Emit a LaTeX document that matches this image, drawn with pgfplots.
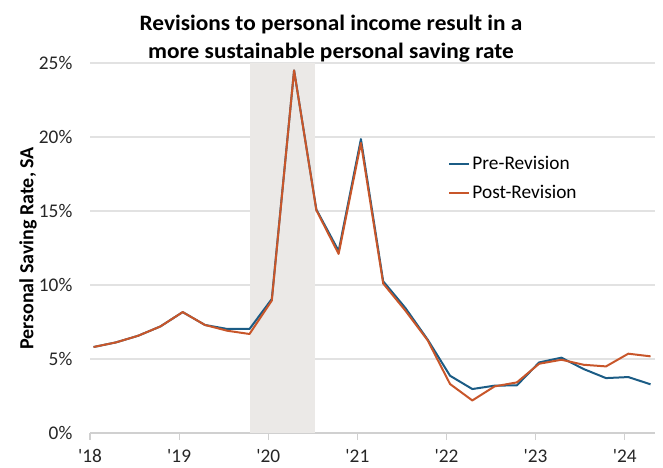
\documentclass[border=0pt]{standalone}
\usepackage{pgfplots}
\pgfplotsset{compat=1.18}
\usepackage{fontspec}
\setmainfont{Carlito}
\newfontfamily\titlefont[FakeStretch=1.06]{Carlito}
\definecolor{preblue}{HTML}{1B5C85}
\definecolor{postorange}{HTML}{C8562A}
\definecolor{shade}{HTML}{EBE9E7}
\definecolor{gridc}{HTML}{E2E2E2}
\definecolor{axc}{HTML}{D0D0D0}
\begin{document}
\begin{tikzpicture}
\begin{axis}[
  name=ax,
  scale only axis,
  width=423.75pt, height=277.5pt,
  xmin=2018, xmax=2024.34,
  ymin=0, ymax=25,
  axis x line*=bottom,
  axis y line*=left,
  y axis line style={draw=none},
  x axis line style={color=axc, line width=0.8pt, -},
  ymajorgrids,
  grid style={color=gridc, line width=0.8pt},
  ytick={0,5,10,15,20,25},
  yticklabels={0\%,5\%,10\%,15\%,20\%,25\%},
  ytick style={draw=none},
  yticklabel style={xshift=-4.75pt},
  xtick={2018,2019,2020,2021,2022,2023,2024},
  xticklabels={\textquotesingle18,\textquotesingle19,\textquotesingle20,\textquotesingle21,\textquotesingle22,\textquotesingle23,\textquotesingle24},
  xticklabel style={yshift=-4pt},
  tick align=outside,
  xtick pos=lower,
  major tick length=5pt,
  xtick style={color=axc, line width=0.8pt},
  tick label style={font=\fontsize{14.5}{16}\selectfont, text=black!85},
  clip=false,
  legend style={draw=none, fill=none, at={(0.634,0.754)}, anchor=north west,
    font=\fontsize{14.5}{16}\selectfont, row sep=7.5pt, inner sep=0pt,
    nodes={inner sep=1.5pt}},
  legend cell align=left,
  legend image code/.code={\draw[#1] (0pt,0pt) -- (15pt,0pt);},
]
\addplot[fill=shade, draw=none, forget plot] coordinates {(2019.79,0) (2019.79,25) (2020.53,25) (2020.53,0)} -- cycle;
\addplot[color=preblue, line width=1.5pt, line join=round] coordinates {
(2018.04,5.81) (2018.29,6.12) (2018.54,6.57) (2018.79,7.2)
(2019.04,8.17) (2019.29,7.3) (2019.54,7.03) (2019.79,7.03)
(2020.04,9.05) (2020.29,24.5) (2020.54,15.1) (2020.79,12.3)
(2021.04,19.86) (2021.29,10.25) (2021.54,8.44) (2021.79,6.3)
(2022.04,3.87) (2022.29,2.97) (2022.54,3.2) (2022.79,3.22)
(2023.04,4.77) (2023.29,5.09) (2023.54,4.32) (2023.79,3.71)
(2024.04,3.78) (2024.29,3.29)};
\addlegendentry{Pre-Revision}
\addplot[color=postorange, line width=1.5pt, line join=round] coordinates {
(2018.04,5.81) (2018.29,6.12) (2018.54,6.57) (2018.79,7.2)
(2019.04,8.17) (2019.29,7.3) (2019.54,6.91) (2019.79,6.69)
(2020.04,8.95) (2020.29,24.5) (2020.54,15.05) (2020.79,12.1)
(2021.04,19.6) (2021.29,10.1) (2021.54,8.26) (2021.79,6.25)
(2022.04,3.31) (2022.29,2.2) (2022.54,3.15) (2022.79,3.42)
(2023.04,4.68) (2023.29,4.95) (2023.54,4.61) (2023.79,4.5)
(2024.04,5.36) (2024.29,5.18)};
\addlegendentry{Post-Revision}
\end{axis}
\path[use as bounding box] ([xshift=-67.5pt,yshift=-24pt]ax.south west) rectangle ([xshift=429.75pt,yshift=324.75pt]ax.south west);
\node[font=\titlefont\bfseries\fontsize{16.5}{21}\selectfont, align=center, inner sep=0pt]
  at ([xshift=180.75pt,yshift=296pt]ax.south west) {Revisions to personal income result in a\\more sustainable personal saving rate};
\node[font=\bfseries\fontsize{15}{17}\selectfont, rotate=90, inner sep=0pt]
  at ([xshift=-46.5pt,yshift=138.4pt]ax.south west) {Personal Saving Rate, SA};
\end{tikzpicture}
\end{document}
